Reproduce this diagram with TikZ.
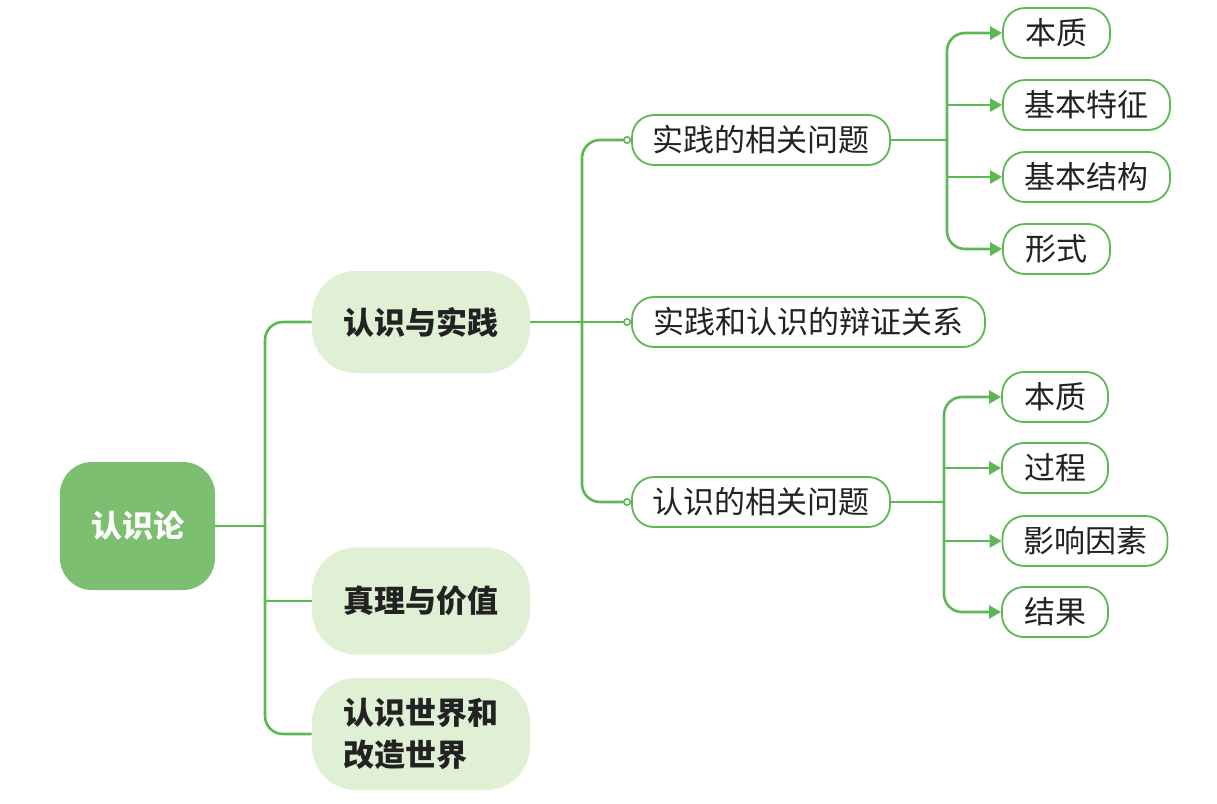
\documentclass[tikz,border=0pt]{standalone}
\usepackage{fontspec}
\newfontfamily\cjk{Noto Sans CJK SC}
\usetikzlibrary{arrows.meta}
\definecolor{lgreen}{HTML}{5DB755}
\definecolor{rootfill}{HTML}{7CBF70}
\definecolor{l1fill}{HTML}{DFF0D4}
\definecolor{txt}{HTML}{222222}
\tikzset{
  base/.style={font=\cjk\fontsize{15.5}{21}\selectfont, text=txt, inner sep=0pt, align=center},
  rootbox/.style={base, font=\cjk\bfseries\fontsize{15.5}{21}\selectfont, text=white, fill=rootfill, rounded corners=16pt, minimum width=77.5pt, minimum height=64pt},
  lonebox/.style={base, font=\cjk\bfseries\fontsize{15.5}{21}\selectfont, fill=l1fill, rounded corners=22pt, minimum width=109pt},
  ltwobox/.style={base, draw=lgreen, line width=0.9pt, fill=white, rounded corners=11pt, minimum height=25pt},
  lthreebox/.style={base, draw=lgreen, line width=0.9pt, fill=white, rounded corners=11pt, minimum height=25pt},
  conn/.style={draw=lgreen, line width=1.3pt},
  circend/.style={conn, -{Circle[open, fill=white, length=4pt, line width=0.8pt]}},
  arr/.style={conn, -{Triangle[length=6pt, width=6.5pt]}},
}
\begin{document}
\begin{tikzpicture}[x=0.5pt,y=-0.5pt]
\useasboundingbox (0,0) rectangle (1217,804);
% nodes
\node[rootbox] (root) at (137.5,526) {认识论};
\node[lonebox, minimum height=51pt] (La) at (421,322) {认识与实践};
\node[lonebox, minimum height=53.5pt] (Lb) at (421,601) {真理与价值};
\node[lonebox, minimum height=56pt, align=left] (Lc) at (421,734) {认识世界和\\改造世界};
\node[ltwobox, minimum width=129pt] (Ma) at (761,140) {实践的相关问题};
\node[ltwobox, minimum width=176.5pt] (Mb) at (808.5,322) {实践和认识的辩证关系};
\node[ltwobox, minimum width=129pt] (Mc) at (761,502) {认识的相关问题};
\node[lthreebox, minimum width=53.5pt] (A1) at (1056.5,33) {本质};
\node[lthreebox, minimum width=83.5pt] (A2) at (1086.5,105) {基本特征};
\node[lthreebox, minimum width=83.5pt] (A3) at (1086.5,177) {基本结构};
\node[lthreebox, minimum width=53.5pt] (A4) at (1056.5,249) {形式};
\node[lthreebox, minimum width=53pt] (B1) at (1055,397) {本质};
\node[lthreebox, minimum width=53pt] (B2) at (1055,468) {过程};
\node[lthreebox, minimum width=82.5pt] (B3) at (1085,541) {影响因素};
\node[lthreebox, minimum width=53pt] (B4) at (1055,612) {结果};
% junctions
\coordinate (t1) at (265,526);
\coordinate (t2) at (582,322);
\coordinate (t3) at (947,140);
\coordinate (t4) at (944,502);
% level 1 connectors
\draw[conn] (root.east) -- (t1);
\draw[conn, rounded corners=9pt] (La.west) -| (t1) |- (Lc.west);
\draw[conn] (t1 |- Lb.west) -- (Lb.west);
% level 2 connectors
\draw[conn] (La.east) -- (t2);
\draw[circend, rounded corners=9pt] (t2) |- (Ma.west);
\draw[circend, rounded corners=9pt] (t2) |- (Mc.west);
\draw[circend] (t2) -- (Mb.west);
% level 3 connectors (first group)
\draw[conn] (Ma.east) -- (t3);
\draw[arr, rounded corners=9pt] (t3) |- (A1.west);
\draw[arr, rounded corners=9pt] (t3) |- (A4.west);
\draw[arr] (t3 |- A2.west) -- (A2.west);
\draw[arr] (t3 |- A3.west) -- (A3.west);
% level 3 connectors (second group)
\draw[conn] (Mc.east) -- (t4);
\draw[arr, rounded corners=9pt] (t4) |- (B1.west);
\draw[arr, rounded corners=9pt] (t4) |- (B4.west);
\draw[arr] (t4 |- B2.west) -- (B2.west);
\draw[arr] (t4 |- B3.west) -- (B3.west);
\end{tikzpicture}
\end{document}
